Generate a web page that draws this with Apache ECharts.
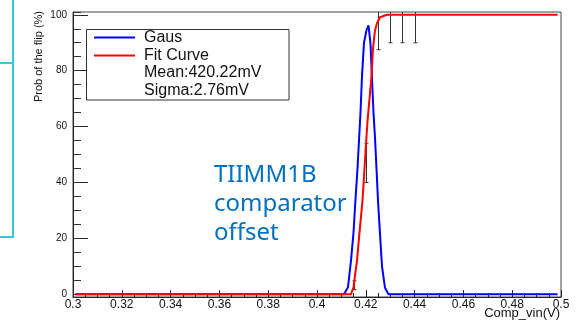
<!DOCTYPE html>
<html><head><meta charset="utf-8">
<script src="https://cdn.jsdelivr.net/npm/echarts@6/dist/echarts.min.js"></script>
<style>html,body{margin:0;padding:0;background:#fff}#c{width:577px;height:324px}</style>
</head><body><div id="c"></div>
<script>
// ---- data ----
const gausX = [0.301, 0.41107, 0.41270, 0.41393, 0.41496, 0.41578, 0.41660, 0.41721, 0.41783, 0.41844, 0.41926, 0.42029, 0.42111, 0.42193, 0.42254, 0.42316, 0.42377, 0.42439, 0.42500, 0.42582, 0.42664, 0.42787, 0.42930, 0.4986];
const gausY = [0, 0, 2.5, 12, 22, 34, 45, 55, 65, 78, 90, 94.5, 96.2, 89.6, 77, 65, 56, 45, 33.5, 21.6, 10, 2.3, 0, 0];
const fitX = [0.301, 0.41393, 0.41496, 0.41639, 0.41762, 0.41865, 0.41926, 0.41988, 0.42070, 0.42152, 0.42234, 0.42295, 0.42377, 0.42459, 0.42582, 0.42869, 0.4986];
const fitY = [0, 0, 2.5, 12, 24, 33.5, 42, 51, 62, 70, 78, 88, 94.4, 97, 99.1, 100, 100];
const ptX = [0.415, 0.42, 0.425, 0.43, 0.435, 0.44];
const ptY = [3.2, 47, 98.5, 100, 100, 100];
const ptErr = [1.6, 7, 11, 10, 10, 10];
const yLabelValues = [0, 20, 40, 60, 80, 100];
const yMajorStep = 20;
const yMinorStep = 5;
const legendLabels = ['Gaus', 'Fit Curve', 'Mean:420.22mV', 'Sigma:2.76mV'];
const noteLines = ['TIIMM1B', 'comparator', 'offset'];
const xTitle = 'Comp_vin(V)';
const yTitle = 'Prob of the flip (%)';

const FONT = '"Liberation Sans", Arial, sans-serif';
const chart = echarts.init(document.getElementById('c'), null, {renderer: 'canvas'});

const legendY = [37.5, 55.5, 73, 90.5];
const graphic = [
  {type: 'polyline', shape: {points: [[0, 63], [13, 63]]}, style: {stroke: '#35C8D8', lineWidth: 2, fill: null}, z: 100},
  {type: 'polyline', shape: {points: [[13, 0], [13, 237], [0, 237]]}, style: {stroke: '#35C8D8', lineWidth: 2, fill: null}, z: 100},
  {type: 'rect', shape: {x: 86.5, y: 29.5, width: 202.5, height: 70.5}, style: {fill: '#fff', stroke: '#333', lineWidth: 1}, z: 100},
  {type: 'line', shape: {x1: 94, y1: legendY[0], x2: 135, y2: legendY[0]}, style: {stroke: '#0000ff', lineWidth: 2}, z: 101},
  {type: 'line', shape: {x1: 94, y1: legendY[1], x2: 135, y2: legendY[1]}, style: {stroke: '#ff0000', lineWidth: 2}, z: 101},
  {type: 'text', x: 39, y: 11, rotation: Math.PI / 2, style: {text: yTitle, font: '11px ' + FONT, fill: '#111', align: 'right', verticalAlign: 'middle'}, z: 100},
  {type: 'text', x: 560, y: 313, style: {text: xTitle, font: '13px ' + FONT, fill: '#111', align: 'right', verticalAlign: 'middle'}, z: 100}
];
legendLabels.forEach((t, i) => graphic.push({type: 'text', x: 144, y: legendY[i], style: {text: t, font: '16px ' + FONT, fill: '#111', align: 'left', verticalAlign: 'middle'}, z: 101}));
const noteY = [175, 204, 233];
noteLines.forEach((t, i) => graphic.push({type: 'text', x: 214, y: noteY[i], style: {text: t, font: '24px "Noto Sans", sans-serif', fill: '#0070C0', align: 'left', verticalAlign: 'middle'}, z: 100}));

const yBase = {
  type: 'value', min: -1, max: 101, position: 'left', offset: 0,
  splitLine: {show: false}
};

chart.setOption({
  animation: false,
  backgroundColor: '#fff',
  grid: {left: 73, right: 16, top: 12, height: 285, show: true, borderColor: '#444', borderWidth: 1, backgroundColor: 'transparent'},
  xAxis: {
    type: 'value', min: 0.3, max: 0.5, interval: 0.02,
    axisLine: {onZero: false, lineStyle: {color: '#222', width: 1}},
    axisTick: {inside: true, length: 7, lineStyle: {color: '#222'}},
    minorTick: {show: true, splitNumber: 4, length: 4, lineStyle: {color: '#222'}},
    splitLine: {show: false},
    axisLabel: {margin: 2, fontSize: 12, fontFamily: FONT, color: '#111', showMinLabel: true, showMaxLabel: true,
      formatter: v => String(+v.toFixed(2))}
  },
  yAxis: [
    Object.assign({}, yBase, {
      minInterval: yMajorStep, maxInterval: yMajorStep,
      axisLine: {show: true, onZero: false, lineStyle: {color: '#222', width: 1}},
      axisTick: {show: true, inside: true, length: 15, lineStyle: {color: '#222'}},
      axisLabel: {show: true, showMinLabel: false, showMaxLabel: false, margin: 6, fontSize: 10, fontFamily: FONT, color: '#111',
        formatter: v => (yLabelValues.indexOf(Math.round(v)) >= 0 && Math.abs(v - Math.round(v)) < 1e-6) ? String(Math.round(v)) : ''}
    }),
    Object.assign({}, yBase, {
      minInterval: yMinorStep, maxInterval: yMinorStep,
      axisLine: {show: false, onZero: false},
      axisTick: {show: true, inside: true, length: 8, lineStyle: {color: '#333'}},
      axisLabel: {show: false}
    })
  ],
  graphic: graphic,
  series: [
    {type: 'line', name: 'Gaus', data: gausX.map((x, i) => [x, gausY[i]]), showSymbol: false, symbol: 'none',
      lineStyle: {color: '#0000ff', width: 2}, z: 2},
    {type: 'custom', name: 'points', data: ptX.map((x, i) => [x, ptY[i], ptErr[i]]), clip: true, z: 3,
      renderItem: (params, api) => {
        const x = api.value(0), y = api.value(1), e = api.value(2);
        const t = api.coord([x, y + e]), b = api.coord([x, y - e]);
        const px = Math.round(t[0]) + 0.5;
        const st = {stroke: '#333', lineWidth: 1};
        return {type: 'group', children: [
          {type: 'line', shape: {x1: px, y1: t[1], x2: px, y2: b[1]}, style: st},
          {type: 'line', shape: {x1: px - 2, y1: t[1], x2: px + 2, y2: t[1]}, style: st},
          {type: 'line', shape: {x1: px - 2, y1: b[1], x2: px + 2, y2: b[1]}, style: st}
        ]};
      }},
    {type: 'line', name: 'Fit Curve', data: fitX.map((x, i) => [x, fitY[i]]), showSymbol: false, symbol: 'none',
      lineStyle: {color: '#ff0000', width: 2}, z: 4},
    {type: 'line', name: 'minorAxisHolder', yAxisIndex: 1, data: [], showSymbol: false, silent: true}
  ]
});
</script>
</body></html>
